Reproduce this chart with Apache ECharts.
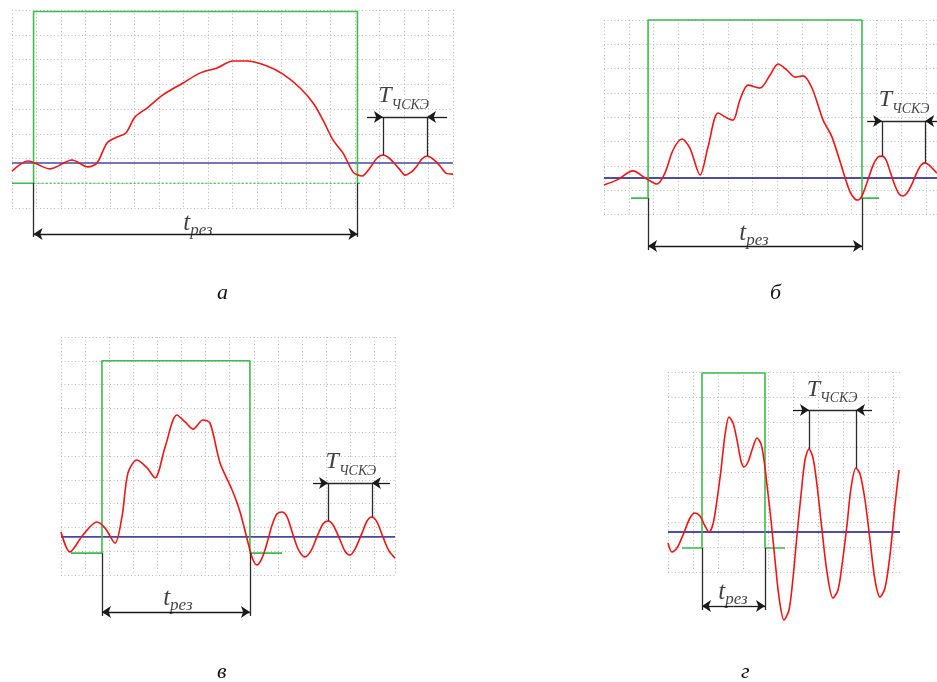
<!DOCTYPE html>
<html><head><meta charset="utf-8">
<script src="https://cdn.jsdelivr.net/npm/echarts@6/dist/echarts.min.js"></script>
<style>html,body{margin:0;padding:0;background:#fff}#c{width:937px;height:682px}</style>
</head><body><div id="c"></div>
<script>
// ---------- Panel а (x, y in grid divisions) ----------
const redA = [[0,1.49],[0.65,1.90],[1.55,1.58],[2.45,1.94],[3.10,1.66],[3.47,1.82],[3.88,2.63],[4.29,2.87],[4.65,3.03],[5.02,3.68],[5.51,4.04],[6.16,4.57],[6.98,5.05],[7.67,5.45],[8.37,5.66],[9.02,5.94],[9.59,5.94],[10.41,5.74],[11.06,5.41],[11.76,4.85],[12.29,4.24],[12.69,3.56],[13.10,2.75],[13.51,2.22],[13.92,1.45],[14.12,1.33],[14.29,1.29],[14.61,1.62],[14.90,2.02],[15.14,2.14],[15.39,2.02],[15.63,1.78],[15.84,1.54],[16.04,1.33],[16.29,1.45],[16.53,1.70],[16.73,1.98],[16.94,2.10],[17.18,1.98],[17.47,1.70],[17.71,1.41],[18.0,1.37]];
const blueA = [[0,1.82],[18,1.82]];
const greenA = [[0,1],[0.88,1],[0.88,7.94],[14.1,7.94],[14.1,1],[14.2,1]];
const greenDotA = [[0.88,1],[14.1,1]];
const tresXA = [0.88, 14.1], tresYA = [1.0, -1.17, -1.05];
const perXA = [15.14, 16.94], perPeakA = [2.14, 2.10], perYA = 3.68, perTailA = [14.49, 17.76];
const lblTA = [15.98, 4.44], lblRA = [7.59, -0.67];

// ---------- Panel б ----------
const redB = [[0,1.21],[0.53,1.42],[1.17,1.79],[1.66,1.50],[2.14,1.25],[2.46,1.70],[2.79,2.65],[3.15,3.10],[3.47,2.73],[3.88,1.62],[4.20,2.77],[4.61,4.17],[4.97,3.97],[5.21,3.88],[5.49,4.71],[5.82,5.32],[6.30,5.20],[6.71,5.74],[7.03,6.19],[7.39,5.94],[7.72,5.65],[8.04,5.70],[8.40,5.20],[8.85,3.88],[9.21,3.18],[9.74,1.50],[9.94,0.92],[10.14,0.63],[10.26,0.59],[10.42,0.76],[10.63,1.33],[10.87,2.03],[11.07,2.36],[11.23,2.40],[11.39,2.24],[11.56,1.75],[11.76,1.17],[11.92,0.84],[12.08,0.76],[12.24,0.88],[12.44,1.25],[12.65,1.75],[12.81,2.03],[12.97,2.12],[13.13,2.03],[13.29,1.87],[13.45,1.70]];
const blueB = [[0,1.50],[13.45,1.50]];
const greenB = [[1.09,0.67],[1.78,0.67],[1.78,8],[10.42,8],[10.42,0.67],[11.11,0.67]];
const tresXB = [1.78, 10.42], tresYB = [0.67, -1.47, -1.30];
const perXB = [11.23, 12.97], perPeakB = [2.40, 2.12], perYB = 3.84, perTailB = [10.63, 13.45];
const lblTB = [12.12, 4.63], lblRB = [6.06, -0.83];

// ---------- Panel в ----------
const redC = [[0,1.81],[0.37,0.97],[0.91,1.68],[1.49,2.23],[1.83,1.97],[2.24,1.34],[2.53,2.44],[2.78,4.29],[3.15,4.83],[3.57,4.50],[3.90,4.08],[4.32,5.38],[4.81,6.72],[5.15,6.43],[5.48,6.13],[5.89,6.51],[6.18,6.39],[6.60,4.71],[7.10,3.57],[7.43,2.65],[7.84,1.05],[7.97,0.63],[8.13,0.42],[8.34,0.71],[8.55,1.34],[8.76,2.10],[8.96,2.56],[9.17,2.65],[9.38,2.44],[9.63,1.68],[9.88,1.01],[10.12,0.76],[10.37,1.01],[10.62,1.60],[10.87,2.14],[11.08,2.27],[11.29,2.10],[11.58,1.47],[11.78,1.01],[11.99,0.84],[12.20,1.09],[12.49,1.76],[12.70,2.27],[12.90,2.44],[13.11,2.23],[13.36,1.60],[13.61,1.01],[13.86,0.71]];
const blueC = [[0,1.60],[13.86,1.60]];
const greenC = [[0.41,0.92],[1.70,0.92],[1.70,9],[7.84,9],[7.84,0.92],[9.17,0.92]];
const tresXC = [1.70, 7.84], tresYC = [0.92, -1.72, -1.55];
const perXC = [11.08, 12.90], perPeakC = [2.27, 2.44], perYC = 3.87, perTailC = [10.46, 13.65];
const lblTC = [12.03, 4.66], lblRC = [4.85, -1.05];

// ---------- Panel г ----------
const redD = [[0,1.16],[0.16,0.80],[0.36,0.96],[0.60,1.48],[0.88,2.16],[1.08,2.36],[1.28,2.24],[1.48,1.84],[1.64,1.60],[1.80,1.92],[1.96,2.88],[2.12,4.08],[2.28,5.48],[2.44,6.20],[2.60,5.96],[2.76,5.28],[2.92,4.44],[3.04,4.20],[3.20,4.40],[3.36,4.88],[3.56,5.36],[3.72,5.12],[3.84,4.48],[3.96,3.48],[4.12,2.08],[4.28,0.48],[4.44,-1.00],[4.64,-1.92],[4.84,-1.52],[5.00,-0.24],[5.16,1.48],[5.32,3.08],[5.48,4.48],[5.64,4.92],[5.80,4.56],[5.96,3.48],[6.16,1.68],[6.36,0.00],[6.60,-1.04],[6.80,-0.72],[6.96,0.28],[7.16,1.88],[7.32,3.36],[7.52,4.16],[7.68,3.92],[7.88,2.88],[8.08,1.28],[8.28,-0.32],[8.48,-1.00],[8.68,-0.64],[8.88,0.68],[9.08,2.68],[9.24,4.08]];
const blueD = [[0,1.60],[9.28,1.60]];
const greenD = [[0.56,0.96],[1.36,0.96],[1.36,7.96],[3.88,7.96],[3.88,0.96],[4.68,0.96]];
const tresXD = [1.36, 3.88], tresYD = [0.96, -1.52, -1.36];
const perXD = [5.64, 7.52], perPeakD = [4.92, 4.16], perYD = 6.48, perTailD = [5.0, 8.16];
const lblTD = [6.56, 7.22], lblRD = [2.6, -0.88];

const captions = ['а', 'б', 'в', 'г'];

// ---------- layout / style ----------
const layouts = [
  {left:12, top:10, width:441, height:198, xmax:18, ymax:8, maxLine:true, blue:'#4646a6', cap:[224,296]},
  {left:604, top:20, width:333, height:194.4, xmax:13.45, ymax:8, maxLine:true, blue:'#12128a', cap:[777,296]},
  {left:61, top:337, width:334, height:238, xmax:13.86, ymax:10, maxLine:true, blue:'#4646a6', cap:[224,675]},
  {left:668, top:372, width:232, height:200, xmax:9.28, ymax:8, maxLine:false, blue:'#12128a', cap:[748,675]}
];
const panels = [
  {red:redA, blue:blueA, green:greenA, greenDot:greenDotA, tresX:tresXA, tresY:tresYA, perX:perXA, perPeak:perPeakA, perY:perYA, perTail:perTailA, lblT:lblTA, lblR:lblRA},
  {red:redB, blue:blueB, green:greenB, tresX:tresXB, tresY:tresYB, perX:perXB, perPeak:perPeakB, perY:perYB, perTail:perTailB, lblT:lblTB, lblR:lblRB},
  {red:redC, blue:blueC, green:greenC, tresX:tresXC, tresY:tresYC, perX:perXC, perPeak:perPeakC, perY:perYC, perTail:perTailC, lblT:lblTC, lblR:lblRC},
  {red:redD, blue:blueD, green:greenD, tresX:tresXD, tresY:tresYD, perX:perXD, perPeak:perPeakD, perY:perYD, perTail:perTailD, lblT:lblTD, lblR:lblRD}
];

const SERIF = '"Liberation Serif","Times New Roman",serif';
const dotStyle = {color:'#b8b8b8', type:[1,2.5], width:1};
const grids = [], xAxes = [], yAxes = [], series = [], graphics = [];

layouts.forEach((L, i) => {
  const P = panels[i];
  grids.push({left:L.left, top:L.top, width:L.width, height:L.height, containLabel:false});
  xAxes.push({type:'value', gridIndex:i, min:0, max:L.xmax, interval:1,
    axisLine:{show:false}, axisTick:{show:false}, axisLabel:{show:false},
    splitLine:{show:true, showMaxLine:L.maxLine, lineStyle:dotStyle}});
  yAxes.push({type:'value', gridIndex:i, min:0, max:L.ymax, interval:1,
    axisLine:{show:false}, axisTick:{show:false}, axisLabel:{show:false},
    splitLine:{show:true, lineStyle:dotStyle}});
  const base = {xAxisIndex:i, yAxisIndex:i, silent:true, animation:false};

  series.push(Object.assign({type:'line', data:P.blue, showSymbol:false, symbol:'none', clip:false, z:3,
    lineStyle:{color:L.blue, width:1.6}}, base));
  series.push(Object.assign({type:'line', data:P.green, showSymbol:false, symbol:'none', clip:false, z:4,
    lineStyle:{color:'#3dbb4c', width:1.6}}, base));
  if (P.greenDot) series.push(Object.assign({type:'line', data:P.greenDot, showSymbol:false, symbol:'none', clip:false, z:4,
    lineStyle:{color:'#3dbb4c', width:1.2, type:[2,2]}}, base));
  series.push(Object.assign({type:'line', data:P.red, showSymbol:false, symbol:'none', smooth:0.3, clip:false, z:6,
    lineStyle:{color:'#f01414', width:1.6}}, base));

  // annotation lines
  const plain = [
    {coords:[[P.tresX[0], P.tresY[0]], [P.tresX[0], P.tresY[1]]]},
    {coords:[[P.tresX[1], P.tresY[0]], [P.tresX[1], P.tresY[1]]]},
    {coords:[[P.perX[0], P.perPeak[0]], [P.perX[0], P.perY]]},
    {coords:[[P.perX[1], P.perPeak[1]], [P.perX[1], P.perY]]},
    {coords:[[P.perX[0], P.perY], [P.perX[1], P.perY]]}
  ];
  series.push(Object.assign({type:'lines', coordinateSystem:'cartesian2d', data:plain, clip:false, z:7,
    symbol:['none','none'], lineStyle:{color:'#2a2a2a', width:1.3, opacity:1}}, base));
  const arrows = [
    {coords:[[P.perTail[0], P.perY], [P.perX[0], P.perY]]},
    {coords:[[P.perTail[1], P.perY], [P.perX[1], P.perY]]},
    {coords:[[(P.tresX[0]+P.tresX[1])/2, P.tresY[2]], [P.tresX[0], P.tresY[2]]]},
    {coords:[[(P.tresX[0]+P.tresX[1])/2, P.tresY[2]], [P.tresX[1], P.tresY[2]]]}
  ];
  series.push(Object.assign({type:'lines', coordinateSystem:'cartesian2d', data:arrows, clip:false, z:7,
    symbol:['none','arrow'], symbolSize:9, lineStyle:{color:'#1a1a1a', width:1.3, opacity:1}}, base));

  // text labels
  series.push(Object.assign({type:'scatter', data:[P.lblT], symbolSize:0, clip:false, z:8,
    label:{show:true, position:'inside', formatter:'{a|T}{b|ЧСКЭ}', color:'#111',
      rich:{a:{fontFamily:SERIF, fontStyle:'italic', fontSize:24, lineHeight:28, verticalAlign:'top', color:'#111'},
            b:{fontFamily:SERIF, fontStyle:'italic', fontSize:14, lineHeight:14, verticalAlign:'bottom', color:'#111'}}}}, base));
  series.push(Object.assign({type:'scatter', data:[P.lblR], symbolSize:0, clip:false, z:8,
    label:{show:true, position:'inside', formatter:'{a|t}{b|рез}', color:'#111',
      rich:{a:{fontFamily:SERIF, fontStyle:'italic', fontSize:25, lineHeight:28, verticalAlign:'top', color:'#111'},
            b:{fontFamily:SERIF, fontStyle:'italic', fontSize:17, lineHeight:17, verticalAlign:'bottom', color:'#111'}}}}, base));

  graphics.push({type:'text', left:L.cap[0]-7, top:L.cap[1]-14, silent:true,
    style:{text:captions[i], font:'italic 22px ' + SERIF, fill:'#111'}});
});

const chart = echarts.init(document.getElementById('c'), null, {renderer:'canvas'});
chart.setOption({
  animation:false, backgroundColor:'#fff',
  grid:grids, xAxis:xAxes, yAxis:yAxes, series:series, graphic:graphics
});
</script></body></html>
